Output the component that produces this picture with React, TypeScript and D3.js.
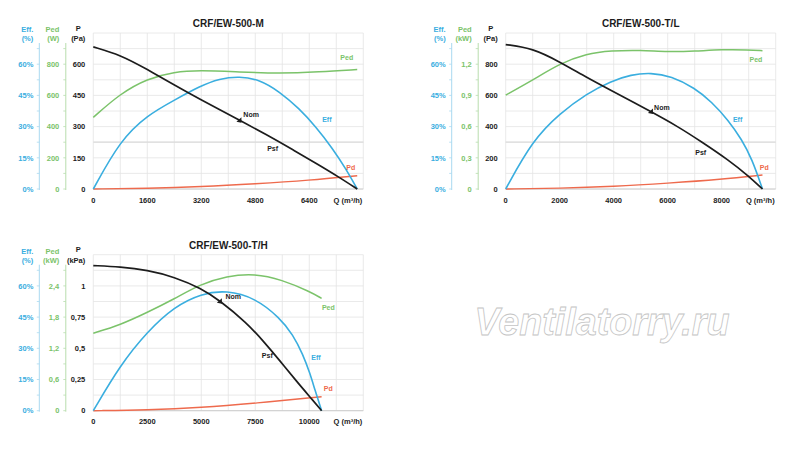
import React, { useEffect } from 'react';
import * as d3 from 'd3';

type Pt = [number, number];

// CRF/EW-500-M : Q (m³/h), P (Pa), Eff (%), Ped (W)
const psfM: Pt[] = [[0, 683], [800, 645], [1600, 575], [2400, 500], [3150, 432], [4330, 331], [5120, 262], [5900, 190], [6690, 115], [7280, 57], [7820, 0]];
const effM: Pt[] = [[0, 0], [800, 23.5], [1600, 35.5], [2400, 42.7], [3150, 49.4], [3740, 53.1], [4330, 54.2], [4920, 52.6], [5510, 46.9], [6100, 38.7], [6590, 30], [7090, 19.5], [7480, 9.8], [7820, 0]];
const pedM: Pt[] = [[0, 459], [800, 612], [1600, 708], [2400, 751], [3150, 762], [4330, 750], [5510, 740], [6690, 750], [7820, 766]];
const pdM: Pt[] = [[0, 0], [1600, 3], [3200, 11], [4800, 25], [6400, 42], [7820, 64]];
const qTicksM = [0, 1600, 3200, 4800, 6400];
const pTicksM = [0, 150, 300, 450, 600];
const pedTicksM = [0, 200, 400, 600, 800];

// CRF/EW-500-T/L : Q (m³/h), P (Pa), Eff (%), Ped (kW)
const psfL: Pt[] = [[0, 926], [1000, 902], [2000, 815], [3000, 715], [3900, 632], [5380, 496], [6380, 400], [7250, 303], [8250, 186], [9000, 82], [9510, 0]];
const effL: Pt[] = [[0, 0], [1000, 23.5], [2000, 36.3], [3000, 45.9], [3900, 51.8], [4640, 55], [5380, 55.9], [6130, 54.3], [7000, 48.6], [7620, 42], [8250, 33], [8740, 23.8], [9120, 14.5], [9510, 0]];
const pedL: Pt[] = [[0, 0.903], [1000, 1.047], [2000, 1.206], [3000, 1.302], [3900, 1.33], [5000, 1.335], [6000, 1.318], [7000, 1.325], [8000, 1.341], [9000, 1.338], [9510, 1.33]];
const pdL: Pt[] = [[0, 0], [2000, 4], [4000, 16], [6000, 37], [8000, 62], [9510, 90]];
const qTicksL = [0, 2000, 4000, 6000, 8000];
const pTicksL = [0, 200, 400, 600, 800];
const pedTicksL = [0, 0.3, 0.6, 0.9, 1.2];

// CRF/EW-500-T/H : Q (m³/h), P (kPa), Eff (%), Ped (kW)
const psfH: Pt[] = [[0, 1.163], [1250, 1.153], [2500, 1.127], [3750, 1.072], [5000, 0.98], [5860, 0.882], [7100, 0.705], [7860, 0.56], [8640, 0.4], [9410, 0.235], [10180, 0.08], [10570, 0]];
const effH: Pt[] = [[0, 0], [1250, 22], [2500, 38], [3750, 50], [5000, 56.3], [6170, 57.9], [7480, 54.3], [8640, 44.6], [9240, 36.6], [9700, 27.2], [10030, 18], [10260, 10], [10570, 0]];
const pedH: Pt[] = [[0, 1.49], [1250, 1.65], [2500, 1.89], [3750, 2.15], [4940, 2.43], [6170, 2.59], [7480, 2.64], [8720, 2.52], [10030, 2.29], [10570, 2.16]];
const pdH: Pt[] = [[0, 0], [2500, 0.006], [5000, 0.025], [7500, 0.06], [10570, 0.112]];
const qTicksH = [0, 2500, 5000, 7500, 10000];
const pTicksH = [0, 0.25, 0.5, 0.75, 1];
const pedTicksH = [0, 0.6, 1.2, 1.8, 2.4];

const effTicks = [0, 15, 30, 45, 60];

const BLACK = '#1c1c1c';
const BLUE = '#3aaedf';
const GREEN = '#7bc36a';
const RED = '#ee6a4d';
const FONT = '"Liberation Sans", Arial, sans-serif';

interface ChartDef {
  title: string;
  left: number;
  bottom: number;
  qMax: number;
  qTicks: number[];
  pMax: number;
  pTicks: number[];
  pUnit: string;
  pedMax: number;
  pedTicks: number[];
  pedUnit: string;
  psf: Pt[];
  eff: Pt[];
  ped: Pt[];
  pd: Pt[];
  nom: Pt;
  // [text, colour, Q, P] — P read on the pressure axis
  notes: [string, string, number, number][];
  strongLine?: number;
}

const charts: ChartDef[] = [
  {
    title: 'CRF/EW-500-M', left: 93.3, bottom: 189,
    qMax: 8000, qTicks: qTicksM, pMax: 750, pTicks: pTicksM, pUnit: '(Pa)',
    pedMax: 1000, pedTicks: pedTicksM, pedUnit: '(W)',
    psf: psfM, eff: effM, ped: pedM, pd: pdM, nom: [4330, 331],
    notes: [['Ped', GREEN, 7510, 618], ['Nom', BLACK, 4676, 347], ['Eff', BLUE, 6920, 323], ['Psf', BLACK, 5314, 183], ['Pd', RED, 7628, 92]],
    strongLine: 225,
  },
  {
    title: 'CRF/EW-500-T/L', left: 505.7, bottom: 189,
    qMax: 10000, qTicks: qTicksL, pMax: 1000, pTicks: pTicksL, pUnit: '(Pa)',
    pedMax: 1.5, pedTicks: pedTicksL, pedUnit: '(kW)',
    psf: psfL, eff: effL, ped: pedL, pd: pdL, nom: [5380, 496],
    notes: [['Ped', GREEN, 9267, 817], ['Nom', BLACK, 5784, 505], ['Eff', BLUE, 8590, 431], ['Psf', BLACK, 7224, 217], ['Pd', RED, 9575, 123]],
    strongLine: 300,
  },
  {
    title: 'CRF/EW-500-T/H', left: 93.3, bottom: 410.7,
    qMax: 12500, qTicks: qTicksH, pMax: 1.25, pTicks: pTicksH, pUnit: '(kPa)',
    pedMax: 3, pedTicks: pedTicksH, pedUnit: '(kW)',
    psf: psfH, eff: effH, ped: pedH, pd: pdH, nom: [5860, 0.878],
    notes: [['Nom', BLACK, 6480, 0.893], ['Ped', GREEN, 10880, 0.808], ['Psf', BLACK, 8056, 0.426], ['Eff', BLUE, 10310, 0.405], ['Pd', RED, 10880, 0.154]],
  },
];

const W = 270;
const H = 156;

const fmt = (v: number) => String(v).replace('.', ',');

const Chart: React.FC<{ c: ChartDef }> = ({ c }) => {
  const x = d3.scaleLinear().domain([0, c.qMax]).range([c.left, c.left + W]);
  const y = d3.scaleLinear().domain([0, c.pMax]).range([c.bottom, c.bottom - H]);
  const yEff = d3.scaleLinear().domain([0, 75]).range([c.bottom, c.bottom - H]);
  const yPed = d3.scaleLinear().domain([0, c.pedMax]).range([c.bottom, c.bottom - H]);

  const line = (sy: d3.ScaleLinear<number, number>) =>
    d3.line<Pt>().x(d => x(d[0])).y(d => sy(d[1])).curve(d3.curveBasis);

  const qStep = c.qTicks[1] / 2;
  const pStep = c.pTicks[1] / 2;
  const vGrid = d3.range(0, c.qMax + qStep / 2, qStep);
  const hGrid = d3.range(0, c.pMax + pStep / 2, pStep);

  const effX = c.left - 54;
  const pedX = c.left - 27.5;
  const top = c.bottom - H;

  // small arrow head at the nominal point
  const nx = x(c.nom[0]);
  const ny = y(c.nom[1]);

  return (
    <g>
      {vGrid.map(v => (
        <line key={'v' + v} x1={x(v)} x2={x(v)} y1={top} y2={c.bottom} stroke="#e4e4e4" strokeWidth={0.8} />
      ))}
      {hGrid.map(v => (
        <line key={'h' + v} x1={c.left} x2={c.left + W} y1={y(v)} y2={y(v)} stroke="#e4e4e4" strokeWidth={0.8} />
      ))}
      {c.strongLine !== undefined && (
        <line x1={c.left} x2={c.left + W} y1={y(c.strongLine)} y2={y(c.strongLine)} stroke="#dcdcdc" strokeWidth={1.3} />
      )}
      <line x1={c.left} x2={c.left + W} y1={c.bottom} y2={c.bottom} stroke="#c4c4c4" strokeWidth={0.8} />

      {/* secondary axes */}
      <line x1={effX} x2={effX} y1={top + 10} y2={c.bottom + 1} stroke="#a9d9f0" strokeWidth={1} />
      <line x1={pedX} x2={pedX} y1={top + 10} y2={c.bottom + 1} stroke="#b8ddad" strokeWidth={1} />
      {d3.range(0, 75, 7.5).map(v => (
        <line key={'te' + v} x1={effX - 2.5} x2={effX} y1={yEff(v)} y2={yEff(v)} stroke="#a9d9f0" strokeWidth={0.8} />
      ))}
      {d3.range(0, c.pedMax * 0.999, c.pedTicks[1] / 2).map(v => (
        <line key={'tp' + v} x1={pedX - 2.5} x2={pedX} y1={yPed(v)} y2={yPed(v)} stroke="#b8ddad" strokeWidth={0.8} />
      ))}

      <g fontFamily={FONT} fontSize={7.5} fontWeight="bold">
        {effTicks.map(v => (
          <text key={'le' + v} x={c.left - 60} y={yEff(v) + 2.7} textAnchor="end" fill={BLUE}>{v}%</text>
        ))}
        {c.pedTicks.map(v => (
          <text key={'lp' + v} x={c.left - 34} y={yPed(v) + 2.7} textAnchor="end" fill={GREEN}>{fmt(v)}</text>
        ))}
        {c.pTicks.map(v => (
          <text key={'lP' + v} x={c.left - 8} y={y(v) + 2.7} textAnchor="end" fill={BLACK}>{fmt(v)}</text>
        ))}
        {c.qTicks.map(v => (
          <text key={'lq' + v} x={x(v)} y={c.bottom + 13.5} textAnchor="middle" fill={BLACK}>{v}</text>
        ))}
        <text x={x(c.qMax) - 1} y={c.bottom + 13.5} textAnchor="end" fill={BLACK}>Q (m³/h)</text>

        <text x={c.left - 60} y={c.bottom - 157} textAnchor="end" fill={BLUE}>Eff.</text>
        <text x={c.left - 60} y={c.bottom - 148} textAnchor="end" fill={BLUE}>(%)</text>
        <text x={c.left - 34} y={c.bottom - 157} textAnchor="end" fill={GREEN}>Ped</text>
        <text x={c.left - 34} y={c.bottom - 148} textAnchor="end" fill={GREEN}>{c.pedUnit}</text>
        <text x={c.left - 15} y={c.bottom - 158.5} textAnchor="middle" fill={BLACK}>P</text>
        <text x={c.left - 8} y={c.bottom - 148} textAnchor="end" fill={BLACK}>{c.pUnit}</text>

        <text x={c.left + W / 2} y={c.bottom - 162} textAnchor="middle" fontSize={10} fill={BLACK}>{c.title}</text>
      </g>

      <path d={line(y)(c.pd) || ''} fill="none" stroke={RED} strokeWidth={1.4} />
      <path d={line(yPed)(c.ped) || ''} fill="none" stroke={GREEN} strokeWidth={1.5} />
      <path d={line(yEff)(c.eff) || ''} fill="none" stroke={BLUE} strokeWidth={1.6} />
      <path d={line(y)(c.psf) || ''} fill="none" stroke={BLACK} strokeWidth={1.7} />

      <path d={`M${nx - 3},${ny + 1.5} L${nx + 2},${ny - 3} L${nx + 2},${ny + 2.5} Z`} fill={BLACK} />

      <g fontFamily={FONT} fontSize={7} fontWeight="bold">
        {c.notes.map(([t, col, q, p]) => (
          <text key={t} x={x(q)} y={y(p)} textAnchor="middle" fill={col}>{t}</text>
        ))}
      </g>
    </g>
  );
};

const App: React.FC = () => {
  useEffect(() => {
    document.body.style.margin = '0';
  }, []);

  return (
    <svg width={800} height={451} style={{ position: 'absolute', left: 0, top: 0, background: '#fff' }}>
      <rect width={800} height={451} fill="#fff" />
      {charts.map(c => <Chart key={c.title} c={c} />)}
      <text
        x={602}
        y={335}
        textAnchor="middle"
        fontFamily={FONT}
        fontStyle="italic"
        fontWeight="bold"
        fontSize={38}
        textLength={255}
        lengthAdjust="spacingAndGlyphs"
        fill="#fff"
        stroke="#c4c4c4"
        strokeWidth={0.8}
      >
        Ventilatorry.ru
      </text>
    </svg>
  );
};

export default App;
